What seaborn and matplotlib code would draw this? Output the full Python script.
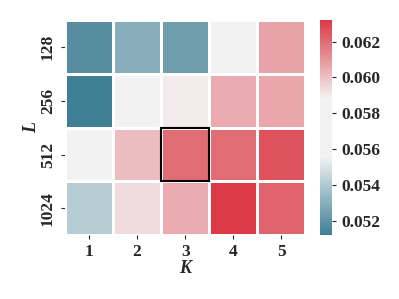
import numpy as np
import pandas as pd
import matplotlib.pyplot as plt
import seaborn as sns
from matplotlib.patches import Rectangle

L_vals = ["128", "256", "512", "1024"]
K_vals = ["1", "2", "3", "4", "5"]
row_128 = [0.0518, 0.0530, 0.0524, 0.0570, 0.0607]
row_256 = [0.0512, 0.0570, 0.0590, 0.0605, 0.0606]
row_512 = [0.0570, 0.0601, 0.0620, 0.0620, 0.0626]
row_1024 = [0.0542, 0.0594, 0.0605, 0.0632, 0.0622]
cbar_ticks = [0.052, 0.054, 0.056, 0.058, 0.060, 0.062]

sns.set_style("ticks")
plt.rcParams['font.family'] = ['Liberation Serif', 'DejaVu Serif']
plt.rcParams['font.weight'] = 'bold'

df = pd.DataFrame([row_128, row_256, row_512, row_1024], index=L_vals, columns=K_vals)

fig = plt.figure(figsize=(3.99, 2.99), dpi=100)
ax = fig.add_axes([0.163, 0.213, 0.602, 0.72])
cax = fig.add_axes([0.802, 0.213, 0.030, 0.72])
cmap = sns.diverging_palette(220, 10, sep=70, as_cmap=True)
sns.heatmap(df, ax=ax, cbar_ax=cax, cmap=cmap, linewidths=1, linecolor="white",
            cbar_kws={"ticks": cbar_ticks, "format": "%.3f"})
ax.set_position([0.163, 0.213, 0.602, 0.72])
cax.set_position([0.802, 0.213, 0.030, 0.72])

ax.add_patch(Rectangle((2, 2), 1, 1, fill=False, edgecolor="black", lw=1.5))

ax.set_xlabel("K", fontsize=13, fontstyle="italic", fontweight="bold", labelpad=0)
ax.set_ylabel("L", fontsize=13, fontstyle="italic", fontweight="bold", labelpad=0)
ax.tick_params(labelsize=12.5, length=3, width=0.8)
for t in ax.get_xticklabels():
    t.set_fontweight("bold")
for t in ax.get_yticklabels():
    t.set_fontweight("bold")
    t.set_rotation(90)
    t.set_va("center")
cax.tick_params(labelsize=12.5, length=3, width=0.8)
for t in cax.get_yticklabels():
    t.set_fontweight("bold")

fig.savefig("out.png", dpi=100)
